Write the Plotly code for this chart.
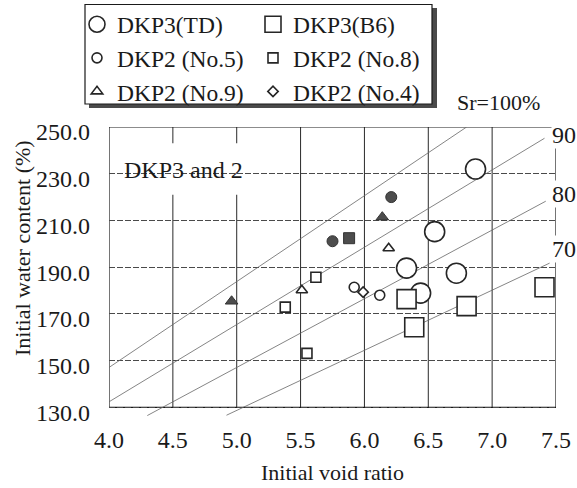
import plotly.graph_objects as go

# ---------------- data ----------------
GS = 2.72  # specific gravity used for the Sr lines  (w = Sr * e / Gs)

td_e = [6.87, 6.55, 6.33, 6.72, 6.44]          # DKP3(TD)
td_w = [232.0, 205.2, 189.6, 187.4, 178.9]
b6_e = [6.33, 6.39, 6.80, 7.41]                # DKP3(B6)
b6_w = [176.3, 164.3, 173.3, 181.4]
no5_e = [5.92, 6.12]                           # DKP2 (No.5)
no5_w = [181.4, 178.0]
no8_e = [5.62, 5.38, 5.55]                     # DKP2 (No.8)
no8_w = [185.7, 172.9, 153.1]
no9_e = [6.19, 5.51]                           # DKP2 (No.9)
no9_w = [198.1, 180.1]
no4_e = [5.99]                                 # DKP2 (No.4)
no4_w = [179.3]

fc_e = [5.75, 6.21]                            # filled circles
fc_w = [201.1, 220.0]
fs_e = [5.88]                                  # filled square
fs_w = [202.4]
ft_e = [6.14, 4.96]                            # filled triangles
ft_w = [211.4, 175.4]

sr_vals = [100, 90, 80, 70]
sr_e_start = [4.0, 4.0, 4.30, 4.92]
sr_e_end = [6.80, 7.41, 7.42, 7.45]
sr_labels = ["Sr=100%", "90", "80", "70"]

x_ticks = [4.0, 4.5, 5.0, 5.5, 6.0, 6.5, 7.0, 7.5]
y_ticks = [130, 150, 170, 190, 210, 230, 250]

# ---------------- geometry helpers ----------------
W, H = 577, 488
ML, MR, MT, MB = 109, 21, 127, 69
PW, PH = W - ML - MR, H - MT - MB


def px(x):  # window pixel -> paper x
    return (x - ML) / PW


def py(y):  # window pixel -> paper y
    return (H - MB - y) / PH


SERIF = "Liberation Serif, Times New Roman, serif"
INK = "#1a1a1a"

fig = go.Figure()

# Sr lines
for s, e0, e1 in zip(sr_vals, sr_e_start, sr_e_end):
    fig.add_trace(go.Scatter(x=[e0, e1], y=[s * e0 / GS, s * e1 / GS], mode="lines",
                             line=dict(color="#666666", width=0.8),
                             showlegend=False, hoverinfo="skip"))


def add(name, xs, ys, symbol, size, legend=True, filled=False):
    fig.add_trace(go.Scatter(
        x=xs, y=ys, mode="markers", name=name, showlegend=legend,
        marker=dict(symbol=symbol, size=size,
                    color="#4d4d4d" if filled else "white",
                    line=dict(color="#333333" if filled else "#262626",
                              width=1.0 if filled else 1.6))))


add("DKP3(TD)", td_e, td_w, "circle", 20)
add("DKP3(B6)", b6_e, b6_w, "square", 19)
add("DKP2 (No.5)", no5_e, no5_w, "circle", 10)
add("DKP2 (No.8)", no8_e, no8_w, "square", 10)
add("DKP2 (No.9)", no9_e, no9_w, "triangle-up", 10)
add("DKP2 (No.4)", no4_e, no4_w, "diamond", 8)
add("filled circle", fc_e, fc_w, "circle", 11, legend=False, filled=True)
add("filled square", fs_e, fs_w, "square", 11, legend=False, filled=True)
add("filled triangle", ft_e, ft_w, "triangle-up", 11, legend=False, filled=True)

shapes = []
# vertical grid lines (only inside the frame)
for xv in x_ticks[1:-1]:
    shapes.append(dict(type="line", xref="x", yref="y", x0=xv, x1=xv, y0=130, y1=250,
                       line=dict(color="#2a2a2a", width=1), layer="below"))
# white patch behind the inner label
shapes.append(dict(type="rect", xref="x", yref="y", x0=4.07, x1=5.36, y0=221, y1=243,
                   fillcolor="white", line=dict(width=0), layer="below"))
# frame
shapes.append(dict(type="rect", xref="x", yref="y", x0=4.0, x1=7.5, y0=130, y1=250,
                   line=dict(color=INK, width=1.2), layer="below"))
# legend box with shadow
shapes.append(dict(type="rect", xref="paper", yref="paper",
                   x0=px(89), x1=px(437), y0=py(108), y1=py(8),
                   fillcolor="#4a4a4a", line=dict(width=0)))
shapes.append(dict(type="rect", xref="paper", yref="paper",
                   x0=px(85), x1=px(432), y0=py(104), y1=py(4.5),
                   fillcolor="white", line=dict(color=INK, width=1.2)))

annotations = [
    dict(text="DKP3 and 2", x=4.587, y=231.5, xref="x", yref="y", showarrow=False,
         font=dict(family=SERIF, size=24, color=INK), xanchor="center", yanchor="middle"),
    dict(text="Initial water content (%)", x=px(22), y=py(248), xref="paper", yref="paper",
         showarrow=False, textangle=-90, font=dict(family=SERIF, size=22, color=INK),
         xanchor="center", yanchor="middle"),
    dict(text=sr_labels[0], x=px(498), y=py(103), xref="paper", yref="paper", showarrow=False,
         font=dict(family=SERIF, size=22, color=INK), xanchor="center", yanchor="middle"),
]
for lab, yy in zip(sr_labels[1:], [135, 194, 249]):
    annotations.append(dict(text=lab, x=px(564), y=py(yy), xref="paper", yref="paper",
                            showarrow=False, bgcolor="white", borderpad=0,
                            font=dict(family=SERIF, size=24, color=INK),
                            xanchor="center", yanchor="middle"))

fig.update_layout(
    width=W, height=H,
    margin=dict(l=ML, r=MR, t=MT, b=MB, pad=0, autoexpand=False),
    paper_bgcolor="white", plot_bgcolor="white",
    font=dict(family=SERIF, color=INK),
    showlegend=True,
    legend=dict(orientation="h", x=px(429), xanchor="right", y=py(2.5), yanchor="top",
                bgcolor="rgba(0,0,0,0)", borderwidth=0,
                font=dict(family=SERIF, size=23.5, color=INK),
                entrywidth=131, entrywidthmode="pixels", itemsizing="trace",
                traceorder="normal"),
    xaxis=dict(range=[4.0, 7.5], tickvals=x_ticks, tickformat=".1f", automargin=False,
               showgrid=False, zeroline=False, showline=False, ticks="",
               tickfont=dict(family=SERIF, size=24, color=INK), ticklabelstandoff=4,
               title=dict(text="Initial void ratio", font=dict(family=SERIF, size=22, color=INK),
                          standoff=12)),
    yaxis=dict(range=[125, 250], tickvals=y_ticks, tickformat=".1f", automargin=False,
               showgrid=True, gridcolor="#4a4a4a", gridwidth=1, griddash="6px,2px",
               zeroline=False, showline=False, ticks="",
               tickfont=dict(family=SERIF, size=24, color=INK), ticklabelstandoff=18,
               ticklabelshift=5),
    shapes=shapes,
    annotations=annotations,
)

# remove the browser's default 8px page margin so the figure fills the window
fig.write_html("out.html", config={"displayModeBar": False},
               post_script="document.body.style.margin='0';")
